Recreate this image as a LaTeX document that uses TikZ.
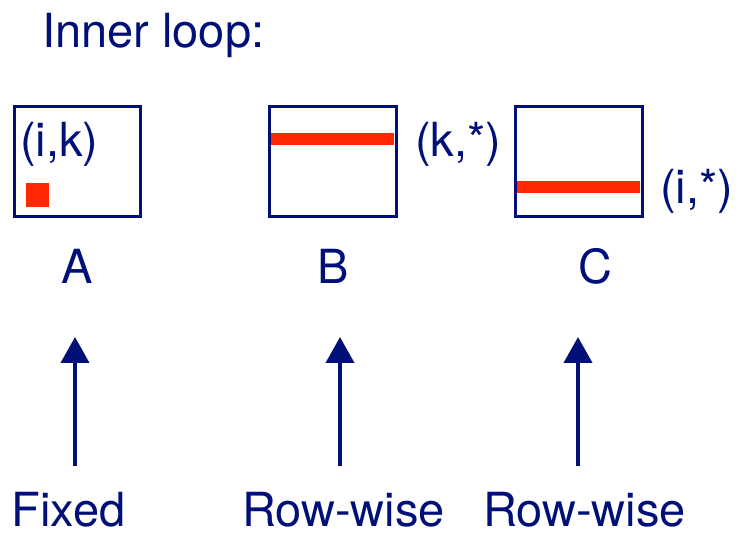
\documentclass[tikz,border=0pt]{standalone}
\usepackage{fontspec}
\setmainfont{TeX Gyre Heros}
\usetikzlibrary{arrows.meta}
\definecolor{navy}{RGB}{0,16,120}
\definecolor{hotred}{RGB}{255,40,0}
\tikzset{
	txt/.style={inner sep=0,text=navy,font=\fontsize{47}{56}\selectfont},
	matbox/.style={draw=navy,line width=3pt},
	strip/.style={fill=hotred},
	uparrow/.style={draw=navy,line width=4pt,-{Triangle[length=26pt,width=28pt]}}
}
\begin{document}
\begin{tikzpicture}[x=1pt,y=1pt]
		\useasboundingbox (0,0) rectangle (747,-534);
		% titre
		\node[txt,anchor=base west](title)at(42,-48){Inner loop:};
		% les trois matrices
		\draw[matbox] (14,-107) rectangle (140,-217);
		\draw[matbox] (269,-107) rectangle (396,-217);
		\draw[matbox] (515,-107) rectangle (642,-217);
		% zones parcourues
		\fill[strip] (26,-183) rectangle (49,-207);
		\fill[strip] (271,-133) rectangle (394,-145);
		\fill[strip] (517,-181) rectangle (640,-193);
		\node[txt,anchor=base west](ik)at(20,-157){(i,k)};
		\node[txt,anchor=base west](kstar)at(415,-157){(k,*)};
		\node[txt,anchor=base west](istar)at(660,-204){(i,*)};
		% noms des matrices
		\node[txt,anchor=base](nameA)at(77,-284){A};
		\node[txt,anchor=base](nameB)at(333,-284){B};
		\node[txt,anchor=base](nameC)at(595,-284){C};
		% fleches et type d'acces
		\foreach \ax/\lx/\acc/\id in {75/68.5/Fixed/A,340/343.5/Row-wise/B,578/584.5/Row-wise/C}{%
			\coordinate(tail\id)at(\ax,-466);
			\coordinate(tip\id)at(\ax,-337);
			\draw[uparrow] (tail\id) -- (tip\id);
			\node[txt,anchor=base,text depth=0pt](acc\id)at(\lx,-526){\acc};
			}
	\end{tikzpicture}
\end{document}
